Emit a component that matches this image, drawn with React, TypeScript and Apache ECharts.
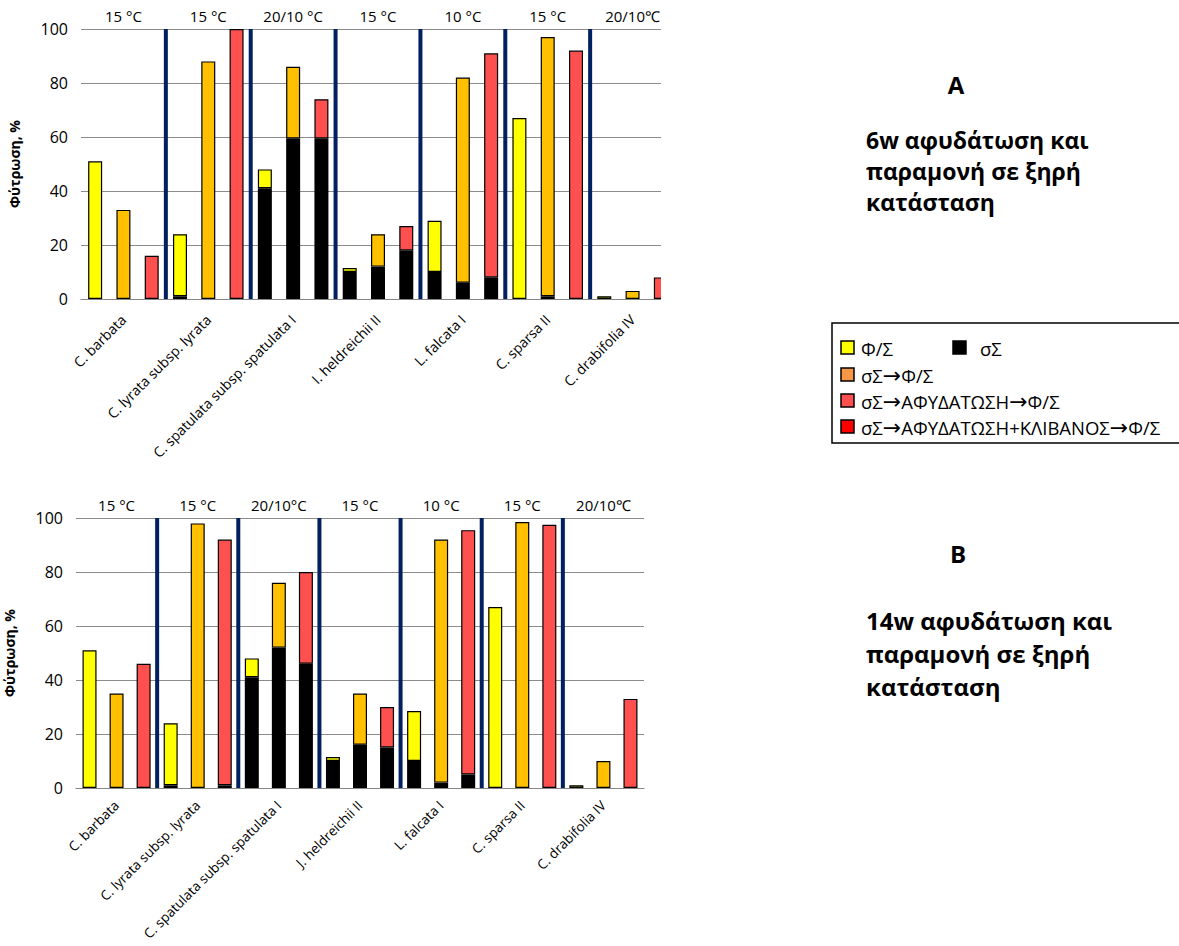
import React, { useEffect, useRef } from "react";
import * as echarts from "echarts";

const FONT = "'Open Sans', 'Noto Sans', sans-serif";

const speciesA = [
  "C. barbata",
  "C. lyrata subsp. lyrata",
  "C. spatulata subsp. spatulata I",
  "I. heldreichii II",
  "L. falcata I",
  "C. sparsa II",
  "C. drabifolia IV",
];
const speciesB = [
  "C. barbata",
  "C. lyrata subsp. lyrata",
  "C. spatulata subsp. spatulata I",
  "J. heldreichii II",
  "L. falcata I",
  "C. sparsa II",
  "C. drabifolia IV",
];
const tempsA = ["15 °C", "15 °C", "20/10 °C", "15 °C", "10 °C", "15 °C", "20/10℃"];
const tempsB = ["15 °C", "15 °C", "20/10°C", "15 °C", "10 °C", "15 °C", "20/10℃"];

const treatments = ["Φ/Σ", "σΣ→Φ/Σ", "σΣ→ΑΦΥΔΑΤΩΣΗ→Φ/Σ"];
const blackName = "σΣ";
const treatmentColors = ["#FFFF00", "#FFC000", "#FF5050"];

// total germination (%) per slot: species × [Φ/Σ, σΣ→Φ/Σ, σΣ→ΑΦΥΔΑΤΩΣΗ→Φ/Σ]
const totalA = [51, 33, 16, 24, 88, 100, 48, 86, 74, 11.5, 24, 27, 29, 82, 91, 67, 97, 92, 1, 3, 8];
// part germinated already in σΣ (black)
const blackA = [0, 0, 0, 1, 0, 0, 41, 59.5, 59.5, 10, 12, 18, 10, 6, 8, 0, 1, 0, 0, 0, 0];
const totalB = [51, 35, 46, 24, 98, 92, 48, 76, 80, 11.5, 35, 30, 28.5, 92, 95.5, 67, 98.5, 97.5, 1, 10, 33];
const blackB = [0, 0, 0, 1, 0, 1, 41, 52, 46, 10, 16, 15, 10, 2, 5, 0, 0, 0, 0, 0, 0];

const yTicks = [0, 20, 40, 60, 80, 100];

const legendNames = ["Φ/Σ", "σΣ", "σΣ→Φ/Σ", "σΣ→ΑΦΥΔΑΤΩΣΗ→Φ/Σ", "σΣ→ΑΦΥΔΑΤΩΣΗ+ΚΛΙΒΑΝΟΣ→Φ/Σ"];
const legendColors = ["#FFFF00", "#000000", "#F79646", "#FF5050", "#FF0000"];

const titleA = ["6w αφυδάτωση και", "παραμονή σε ξηρή", "κατάσταση"];
const titleB = ["14w αφυδάτωση και", "παραμονή σε ξηρή", "κατάσταση"];

function slotCategories(species: string[]) {
  const out: string[] = [];
  species.forEach((s) => treatments.forEach((t) => out.push(s + " | " + t)));
  return out;
}

function buildOption() {
  const grids = [
    { left: 81, top: 29, width: 594, height: 270, containLabel: false, outerBoundsMode: "none" },
    { left: 76, top: 518, width: 568, height: 270, containLabel: false, outerBoundsMode: "none" },
  ];
  const sets = [
    { species: speciesA, temps: tempsA, total: totalA, black: blackA, labelSize: 14, labelMargin: 18 },
    { species: speciesB, temps: tempsB, total: totalB, black: blackB, labelSize: 13.5, labelMargin: 15 },
  ];
  const xAxis: any[] = [];
  const yAxis: any[] = [];
  const series: any[] = [];
  sets.forEach((set, g) => {
    xAxis.push({
      type: "category",
      gridIndex: g,
      data: slotCategories(set.species),
      axisLine: { lineStyle: { color: "#868686", width: 1 } },
      axisTick: { interval: 0, length: 5, lineStyle: { color: "#868686" } },
      axisLabel: {
        interval: 0,
        rotate: 45,
        margin: set.labelMargin,
        fontSize: set.labelSize,
        fontFamily: FONT,
        color: "#000",
        formatter: (_v: string, i: number) => (i % 3 === 1 ? set.species[(i - 1) / 3] : ""),
      },
      splitLine: { show: false },
    });
    xAxis.push({
      type: "category",
      gridIndex: g,
      position: "top",
      data: set.temps,
      axisLine: { show: false },
      axisTick: { show: false },
      axisLabel: { margin: 6, fontSize: 15, fontFamily: FONT, color: "#000" },
      splitLine: { show: false },
    });
    yAxis.push({
      type: "value",
      gridIndex: g,
      min: 0,
      max: 100,
      interval: 20,
      name: "Φύτρωση, %",
      nameLocation: "middle",
      nameGap: 60,
      nameTextStyle: { fontSize: 14, fontWeight: "bold", fontFamily: FONT, color: "#000" },
      axisLine: { show: false },
      axisTick: { show: false },
      axisLabel: {
        fontSize: 16,
        fontFamily: FONT,
        color: "#000",
        margin: 13,
        formatter: (v: number) => (yTicks.includes(v) ? String(v) : ""),
      },
      splitLine: { lineStyle: { color: "#8C8C8C", width: 1.2 } },
    });
    series.push({
      name: blackName,
      type: "bar",
      xAxisIndex: g * 2,
      yAxisIndex: g,
      stack: "s" + g,
      barWidth: 14,
      itemStyle: { color: "#000" },
      data: set.black.map((v) => v),
      z: 3,
    });
    treatments.forEach((t, ti) => {
      series.push({
        name: t,
        type: "bar",
        xAxisIndex: g * 2,
        yAxisIndex: g,
        stack: "s" + g,
        barWidth: 14,
        itemStyle: { color: treatmentColors[ti], borderColor: "#000", borderWidth: 1.2 },
        data: set.total.map((v, i) => (i % 3 === ti ? +(v - set.black[i]).toFixed(2) : "-")),
        z: 2,
      });
    });
  });
  return {
    animation: false,
    backgroundColor: "#fff",
    textStyle: { fontFamily: FONT },
    grid: grids,
    xAxis,
    yAxis,
    series,
  };
}

function arrowRich(s: string) {
  return s.split("→").join("{a|→}");
}

function staticGraphics(): any[] {
  const els: any[] = [];
  // clip right part of the top chart (cropped in the reference)
  els.push({ type: "rect", shape: { x: 661, y: 0, width: 80, height: 312 }, style: { fill: "#fff" }, z: 100, silent: true });
  els.push({
    type: "text", x: 956, y: 84, z: 110,
    style: { text: "A", font: "bold 24px " + FONT, fill: "#000", align: "center", verticalAlign: "middle" },
  });
  titleA.forEach((t, i) => {
    els.push({
      type: "text", x: 866, y: 140 + i * 31, z: 110,
      style: { text: t, font: "bold 23px " + FONT, fill: "#000", align: "left", verticalAlign: "middle" },
    });
  });
  els.push({
    type: "text", x: 958, y: 553, z: 110,
    style: { text: "B", font: "bold 24px " + FONT, fill: "#000", align: "center", verticalAlign: "middle" },
  });
  titleB.forEach((t, i) => {
    els.push({
      type: "text", x: 866, y: 620 + i * 33, z: 110,
      style: { text: t, font: "bold 24px " + FONT, fill: "#000", align: "left", verticalAlign: "middle" },
    });
  });
  // legend box
  els.push({
    type: "rect", shape: { x: 832, y: 323, width: 360, height: 120 },
    style: { fill: "#fff", stroke: "#000", lineWidth: 1.5 }, z: 110, silent: true,
  });
  const pos = [
    [841, 348],
    [953, 348],
    [841, 375],
    [841, 401],
    [841, 427],
  ];
  legendNames.forEach((n, i) => {
    const [x, y] = pos[i];
    els.push({
      type: "rect", shape: { x, y: y - 7, width: 13, height: 13 },
      style: { fill: legendColors[i], stroke: "#000", lineWidth: 1.5 }, z: 111,
    });
    els.push({
      type: "text", x: x + (i === 1 ? 27 : 20), y, z: 111,
      style: {
        text: arrowRich(n),
        fontSize: 18.5,
        fontFamily: FONT,
        fill: "#000",
        align: "left",
        verticalAlign: "middle",
        rich: { a: { fontSize: 22, fontFamily: "'DejaVu Sans', sans-serif", fill: "#000" } },
      },
    });
  });
  return els;
}

export default function App() {
  const ref = useRef<HTMLDivElement>(null);
  useEffect(() => {
    document.body.style.margin = "0";
    const chart = echarts.init(ref.current!, null, { renderer: "svg" });
    chart.setOption(buildOption() as any);
    const lines: any[] = [];
    [0, 1].forEach((g) => {
      const y0 = chart.convertToPixel({ yAxisIndex: g } as any, 0) as number;
      const y1 = chart.convertToPixel({ yAxisIndex: g } as any, 100) as number;
      for (let k = 3; k < 21; k += 3) {
        const xa = chart.convertToPixel({ xAxisIndex: g * 2 } as any, k - 1) as number;
        const xb = chart.convertToPixel({ xAxisIndex: g * 2 } as any, k) as number;
        const x = (xa + xb) / 2;
        lines.push({
          type: "line", silent: true, z: 10,
          shape: { x1: x, y1: y1, x2: x, y2: y0 },
          style: { stroke: "#002060", lineWidth: 4 },
        });
      }
    });
    chart.setOption({ graphic: [...staticGraphics(), ...lines] });
    return () => chart.dispose();
  }, []);
  return <div ref={ref} style={{ width: 1179, height: 946 }} />;
}
